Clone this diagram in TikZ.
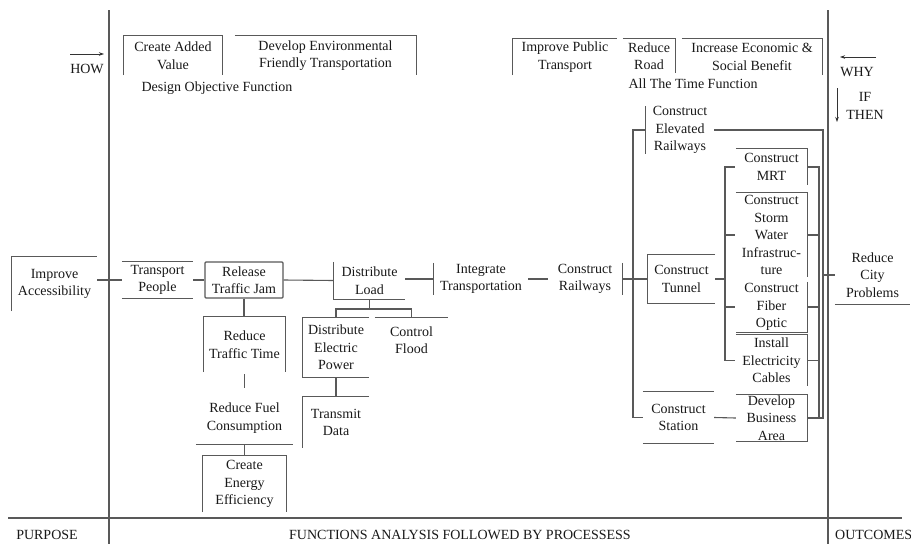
\documentclass[tikz,border=0pt]{standalone}
\usepackage{fontspec}
\setmainfont{Liberation Serif}
\usetikzlibrary{arrows.meta}
\begin{document}
\begin{tikzpicture}[x=1pt,y=-1pt,
  ln/.style={draw=black!65, line width=1.1pt},
  arr/.style={draw=black!80, line width=0.8pt, -{Stealth[length=5pt,width=3.5pt]}},
  txt/.style={font=\fontsize{14}{17.5}\selectfont, align=center, inner sep=0pt, text=black!90},
]
\useasboundingbox (0,0) rectangle (911,544);
\fill[white] (0,0) rectangle (911,544);
\clip (0,0) rectangle (911,544);

% frame
\draw[ln] (109,10) -- (109,544);
\draw[ln] (828,10) -- (828,544);
\draw[ln] (8,518) -- (902,518);

% HOW / WHY / IF THEN
\node[txt] (how) at (87,69) {HOW};
\coordinate (howa) at (70,54); \coordinate (howb) at (104,54);
\draw[arr] (howa) -- (howb);
\node[txt] (why) at (857,72) {WHY};
\coordinate (whya) at (876,57); \coordinate (whyb) at (840,57);
\draw[arr] (whya) -- (whyb);
\node[txt] (ift) at (865,106) {IF\\THEN};
\coordinate (ifa) at (837,88); \coordinate (ifb) at (837,122);
\draw[arr] (ifa) -- (ifb);

% top boxes
\node[txt, minimum width=98pt, minimum height=39pt] (cav) at (173,55.5) {Create Added\\Value};
\draw[ln] (cav.south west) |- (cav.north east) -- (cav.south east);
\node[txt, minimum width=181pt, minimum height=39pt] (dev) at (325.5,55.5) {Develop Environmental\\Friendly Transportation};
\draw[ln] (dev.north west) -- (dev.north east) -- (dev.south east);
\node[txt] (dof) at (217,88) {Design Objective Function};
\node[txt, minimum width=104pt, minimum height=36pt] (ipt) at (565,57) {Improve Public\\Transport};
\draw[ln] (ipt.south west) |- (ipt.north east);
\node[txt, minimum width=52pt, minimum height=34pt] (rr) at (649,56) {Reduce\\Road};
\draw[ln] (rr.north west) -- (rr.north east) -- (rr.south east);
\node[txt, minimum width=140pt, minimum height=36pt] (ies) at (752,57) {Increase Economic \&\\Social Benefit};
\draw[ln] (ies.north west) -- (ies.north east) -- (ies.south east);
\node[txt] (atf) at (693,84) {All The Time Function};

% main row
\node[txt, minimum width=85pt, minimum height=54pt] (ia) at (54.5,284) {Improve\\Accessibility};
\draw[ln] (ia.south west) |- (ia.north east);
\node[txt, minimum width=71pt, minimum height=36pt] (tp) at (157.5,280) {Transport\\People};
\draw[ln] (tp.north west) -- (tp.north east) (tp.south west) -- (tp.south east);
\node[txt, draw=black!65, line width=1.1pt, rounded corners=1pt, minimum width=78pt, minimum height=36pt] (rtj) at (244,280) {Release\\Traffic Jam};
\node[txt, minimum width=71pt, minimum height=37pt] (dl) at (369.5,280.5) {Distribute\\Load};
\draw[ln] (dl.north west) |- (dl.south east);
\node[txt, minimum width=94pt, minimum height=32pt] (it) at (481,279) {Integrate\\Transportation};
\draw[ln] (it.north west) -- (it.south west);
\node[txt, minimum width=74pt, minimum height=32pt] (cr) at (585,279) {Construct\\Railways};
\draw[ln] (cr.north east) -- (cr.south east);

\draw[ln] (ia.east |- tp.west) -- (tp.west);
\draw[ln] (tp.east) -- (rtj.west);
\draw[ln] (rtj.east) -- (dl.west);
\draw[ln] (dl.east |- it.west) -- (it.west);
\draw[ln] (it.east) -- (cr.west);

% right tree
\node[txt, minimum width=67pt, minimum height=48pt] (ct) at (681.5,279) {Construct\\Tunnel};
\draw[ln] (ct.north east) -| (ct.south west) -- (ct.south east);
\draw[ln] (cr.east) -- (ct.west);
\node[txt, minimum width=68pt, minimum height=46pt] (cer) at (680,130) {Construct\\Elevated\\Railways};
\draw[ln] (cer.north west) -- (cer.south west);
\node[txt, minimum width=71pt, minimum height=51pt] (cs) at (678.5,417.5) {Construct\\Station};
\draw[ln] (cs.north west) -- (cs.north east) (cs.south west) -- (cs.south east);
\coordinate (tk) at (633,279);
\draw[ln] ([xshift=-1pt]cer.west) -| (tk) |- (cs.west);

\node[txt, minimum width=71pt, minimum height=36pt] (mrt) at (771.5,167) {Construct\\MRT};
\draw[ln] (mrt.north west) -| (mrt.south east);
\node[txt, minimum width=71pt, minimum height=84pt] (sw) at (771.5,235) {Construct\\Storm\\Water\\Infrastruc-\\ture};
\draw[ln] (sw.north west) -| (sw.south east);
\node[txt, minimum width=71pt, minimum height=50pt] (fo) at (771.5,307) {Construct\\Fiber\\Optic};
\draw[ln] (fo.north east) |- (fo.south west);
\node[txt, minimum width=71pt, minimum height=51pt] (iec) at (771.5,360.5) {Install\\Electricity\\Cables};
\draw[ln] (iec.north west) -| (iec.south east);
\node[txt, minimum width=71pt, minimum height=46pt] (dba) at (771.5,418) {Develop\\Business\\Area};
\draw[ln] (dba.north west) -| (dba.south east) -- (dba.south west);
\draw[ln] (cs.east) -- (dba.west);

\coordinate (itk) at (725,279);
\draw[ln] (ct.east) -- (itk);
\draw[ln] ([xshift=-1pt]mrt.west) -| (itk) |- ([xshift=-1pt]iec.west);
\draw[ln] (itk |- sw.west) -- ([xshift=-1pt]sw.west);
\draw[ln] (itk |- fo.west) -- ([xshift=-1pt]fo.west);

\coordinate (c1) at (819,0);
\coordinate (c2) at (823,0);
\draw[ln] (mrt.east) -| (c1 |- dba.east);
\draw[ln] (sw.east) -- (c1 |- sw.east);
\draw[ln] (fo.east) -- (c1 |- fo.east);
\draw[ln] (iec.east) -- (c1 |- iec.east);
\draw[ln] (cer.east) -| (c2 |- dba.east) -- (dba.east);
\node[txt, minimum width=75pt, minimum height=58pt] (rcp) at (872.5,275) {Reduce\\City\\Problems};
\draw[ln] (rcp.south west) -- (rcp.south east);
\draw[ln] (c2 |- rcp.west) -- (rcp.west);

% left subtree
\node[txt, minimum width=81pt, minimum height=55pt] (rtt) at (244.5,344.5) {Reduce\\Traffic Time};
\draw[ln] (rtt.south west) |- (rtt.north east) -- (rtt.south east);
\draw[ln] (rtj.south) -- (rtj.south |- rtt.north);
\node[txt, minimum width=97pt, minimum height=52pt] (rfc) at (244.5,418) {Reduce Fuel\\Consumption};
\draw[ln] (rfc.south west) -- (rfc.south east);
\draw[ln] ([yshift=-2pt]rtt.south) -- ([yshift=4pt]rfc.north);
\node[txt, minimum width=83pt, minimum height=56pt] (cee) at (244.5,484) {Create\\Energy\\Efficiency};
\draw[ln] (cee.south west) |- (cee.north east) -- (cee.south east);
\draw[ln] (rfc.south) -- (cee.north);

% distribute load subtree
\node[txt, minimum width=66pt, minimum height=59pt] (dep) at (336,347.5) {Distribute\\Electric\\Power};
\draw[ln] (dep.north east) -| (dep.south west) -- (dep.south east);
\node[txt, minimum width=73pt, minimum height=44pt] (cf) at (411.5,340) {Control\\Flood};
\draw[ln] (cf.north west) -- (cf.north east);
\coordinate (dlj) at (369.5,309);
\draw[ln] (dl.south) -- (dlj);
\draw[ln] (dep.north) |- (dlj) -| (cf.north);
\node[txt, minimum width=66pt, minimum height=51pt] (td) at (336,422.5) {Transmit\\Data};
\draw[ln] (td.north east) -| (td.south west);
\draw[ln] (dep.south) -- (td.north);

% bottom labels
\node[txt] (pur) at (47,535) {PURPOSE};
\node[txt] (fa) at (460,535) {FUNCTIONS ANALYSIS FOLLOWED BY PROCESSESS};
\node[txt, anchor=west] (out) at (835,535) {OUTCOMES};
\end{tikzpicture}
\end{document}
